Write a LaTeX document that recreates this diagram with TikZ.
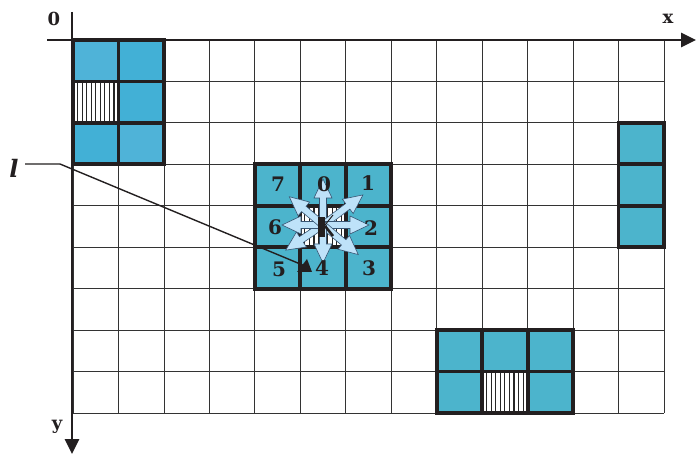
\documentclass[tikz,border=0pt]{standalone}
\usepackage{fontspec}
\newfontfamily\heavyserif{DejaVu Serif}
\usetikzlibrary{arrows.meta}
\definecolor{bdr}{RGB}{35,31,32}
\definecolor{cyanA}{RGB}{76,180,204}
\definecolor{cyanB}{RGB}{79,179,216}
\definecolor{cyanC}{RGB}{66,176,214}
\definecolor{afill}{RGB}{190,226,249}
\definecolor{adraw}{RGB}{55,85,115}
\newcommand\gcell[3]{\fill[#3] ({73+#1*45.46},{40+#2*41.44}) rectangle ++(45.46,41.44);}
\newcommand\gbox[2]{\draw[blockline] ({73+#1*45.46},{40+#2*41.44}) rectangle ++(45.46,41.44);}
\newcommand\ghatch[2]{\fill[white] ({73+#1*45.46},{40+#2*41.44}) rectangle ++(45.46,41.44);
  \foreach \k in {1,...,9}{\draw[hatchline] ({73+#1*45.46+\k*4.55},{40+#2*41.44}) -- ++(0,41.44);}}
\newcommand\blockarrow[2]{\begin{scope}[shift={(C)},rotate=#1]
  \filldraw[barrowst] (0,3.5) -- ({#2-19},3.5) -- ({#2-19},9) -- (#2,0) -- ({#2-19},-9) -- ({#2-19},-3.5) -- (0,-3.5) -- cycle;
  \end{scope}}
\begin{document}
\begin{tikzpicture}[x=1pt,y=-1pt,
  gridline/.style={line width=0.8pt,draw=black!80},
  blockline/.style={line width=3.8pt,draw=bdr,line join=miter},
  hatchline/.style={line width=1.1pt,draw=black!85},
  axisline/.style={line width=2.6pt,draw=bdr,-{Triangle[length=15pt,width=14pt]}},
  barrowst/.style={draw=adraw,fill=afill,line width=0.6pt,line join=miter},
  digit/.style={font=\heavyserif\fontsize{20}{20}\selectfont\bfseries,text=bdr,inner sep=0pt},
  axlabel/.style={font=\heavyserif\fontsize{18}{18}\selectfont\bfseries,text=bdr,inner sep=0pt}]
\useasboundingbox (0,0) rectangle (696,454);
\fill[white] (0,0) rectangle (696,454);
% grid
\foreach \i in {0,...,13}{\draw[gridline] ({73+\i*45.46},40) -- ({73+\i*45.46},413);}
\foreach \j in {0,...,9}{\draw[gridline] (73,{40+\j*41.44}) -- (664,{40+\j*41.44});}
% top-left block
\gcell{0}{0}{cyanB}\gcell{1}{0}{cyanC}\gcell{1}{1}{cyanC}\gcell{0}{2}{cyanC}\gcell{1}{2}{cyanB}
\ghatch{0}{1}
\foreach \c/\r in {0/0,1/0,0/1,1/1,0/2,1/2}{\gbox{\c}{\r}}
% right block
\foreach \r in {2,3,4}{\gcell{12}{\r}{cyanA}}
\foreach \r in {2,3,4}{\gbox{12}{\r}}
% centre block
\foreach \c/\r in {4/3,5/3,6/3,4/4,6/4,4/5,5/5,6/5}{\gcell{\c}{\r}{cyanA}}
\ghatch{5}{4}
\foreach \c/\r in {4/3,5/3,6/3,4/4,5/4,6/4,4/5,5/5,6/5}{\gbox{\c}{\r}}
% bottom block
\foreach \c/\r in {8/7,9/7,10/7,8/8,10/8}{\gcell{\c}{\r}{cyanA}}
\ghatch{9}{8}
\foreach \c/\r in {8/7,9/7,10/7,8/8,9/8,10/8}{\gbox{\c}{\r}}
% axes
\coordinate (xs) at (47,40);
\coordinate (xe) at (696,40);
\coordinate (ys) at (72,12);
\coordinate (ye) at (72,454);
\draw[axisline] (xs) -- (xe);
\draw[axisline] (ys) -- (ye);
\node[axlabel] (o) at (54,19) {0};
\node[axlabel] (xl) at (668,19) {x};
\node[axlabel] (yl) at (57,427) {y};
% direction arrows
\coordinate (C) at (323,225);
\blockarrow{90}{46}
\blockarrow{37}{50}
\blockarrow{0}{46}
\blockarrow{-40}{46}
\blockarrow{-90}{38}
\blockarrow{-146}{45}
\blockarrow{180}{41}
\blockarrow{140}{44}
% black mark
\fill[bdr] (318,217) rectangle (325,237);
\draw[bdr,line width=2.6pt] (325,226) -- (333,236);
\draw[bdr,line width=1pt] (325,225) -- (333,215);
% digits
\node[digit] (d7) at (278,184) {7};
\node[digit] (d0) at (324,184) {0};
\node[digit] (d1) at (368,183) {1};
\node[digit] (d6) at (275,227) {6};
\node[digit] (d2) at (371,228) {2};
\node[digit] (d5) at (279,269) {5};
\node[digit] (d4) at (322,268) {4};
\node[digit] (d3) at (369,268) {3};
% l pointer
\node[font=\heavyserif\fontsize{24}{24}\selectfont\bfseries\itshape,text=bdr,inner sep=0pt] (l) at (14,168) {l};
\coordinate (lb) at (60,164);
\coordinate (lt) at (305,266);
\draw[bdr,line width=1.4pt] (25,164) -- (lb) -- (lt);
\fill[bdr] (297,272) -- (312,272) -- (307,259) -- cycle;
\end{tikzpicture}
\end{document}
